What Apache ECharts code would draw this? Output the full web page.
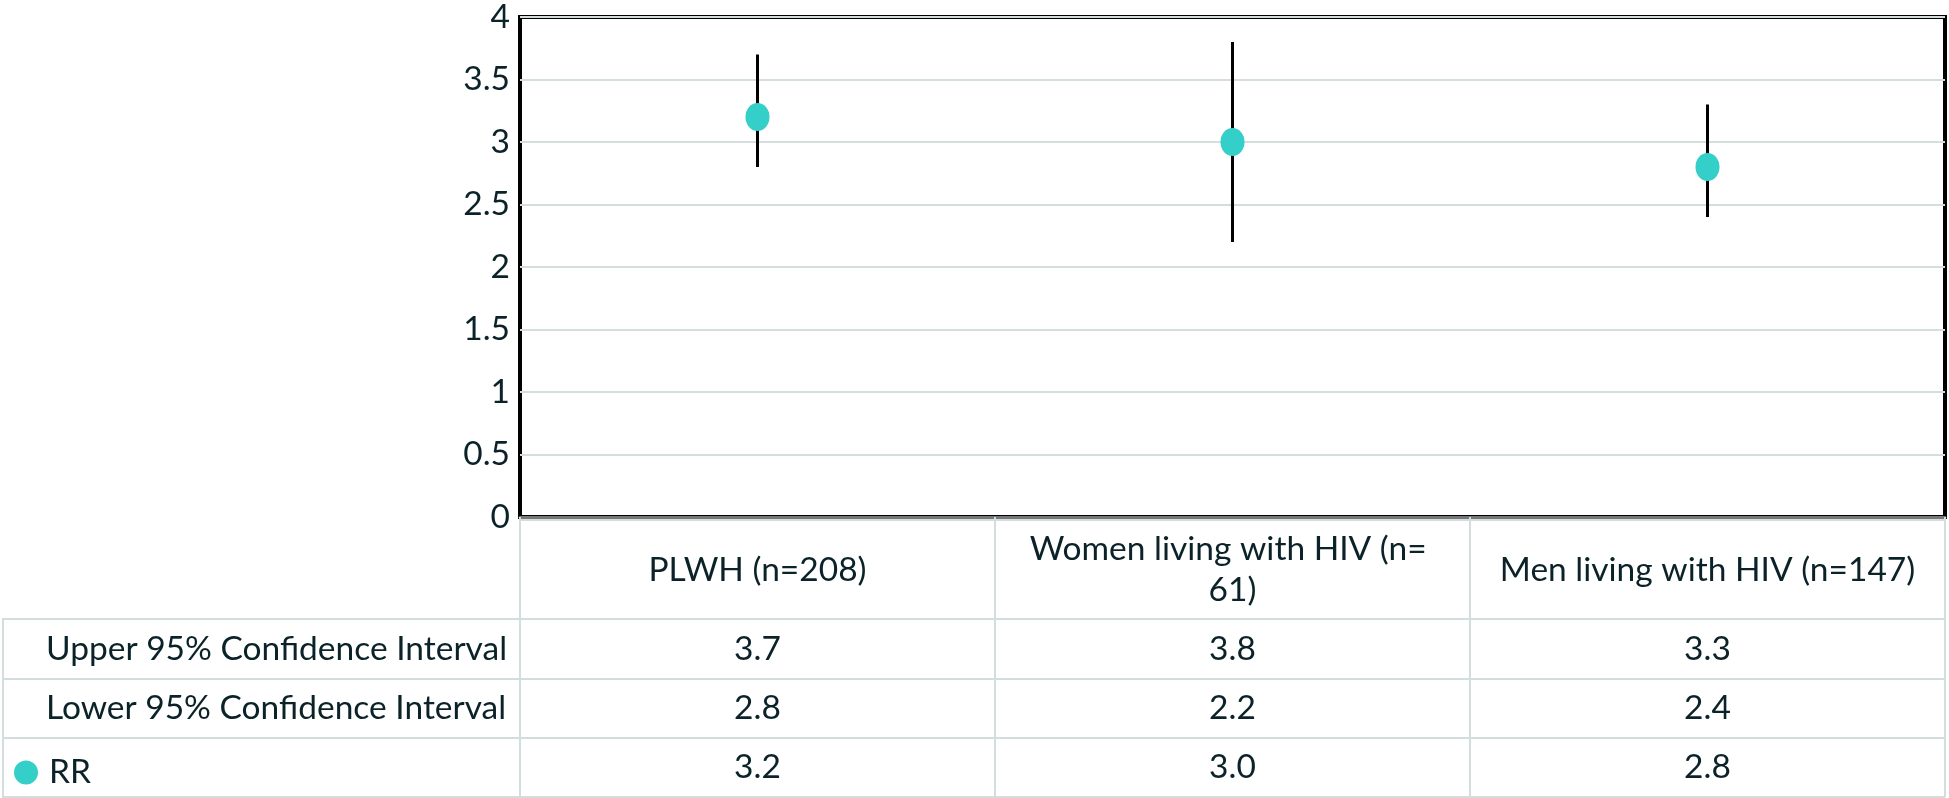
<!DOCTYPE html>
<html>
<head>
<meta charset="utf-8">
<script src="https://cdn.jsdelivr.net/npm/echarts@6/dist/echarts.min.js"></script>
<style>
html,body{margin:0;padding:0;background:#fff;}
#chart{width:1949px;height:798px;}
</style>
</head>
<body>
<div id="chart"></div>
<script>
// ---- data ----
const categories = ['PLWH (n=208)', 'Women living with HIV (n= 61)', 'Men living with HIV (n=147)'];
const upperCI = [3.7, 3.8, 3.3];
const lowerCI = [2.8, 2.2, 2.4];
const rr = [3.2, 3.0, 2.8];
const rowLabels = ['Upper 95% Confidence Interval', 'Lower 95% Confidence Interval', 'RR'];
const yMin = 0, yMax = 4, yStep = 0.5;

// ---- layout / style ----
const FONT = 'Lato';
const FS = 33.5;
const TXT = '#0b2229';
const DOT = '#35cfc9';
const GRIDC = '#d5dede';
const TBL = '#d3dddd';
const gridL = 520, gridR = 1945, gridT = 13, gridB = 517;
const rowY = [517, 619, 679, 738, 797];

const chart = echarts.init(document.getElementById('chart'), null, {renderer: 'canvas'});

const tableRows = [upperCI, lowerCI, rr];
const colW = (gridR - gridL) / categories.length;
const graphics = [];
function hline(y, x1, x2) {
  graphics.push({type: 'line', silent: true, z: 1, shape: {x1: x1, y1: y, x2: x2, y2: y}, style: {stroke: TBL, lineWidth: 2}});
}
function vline(x, y1, y2) {
  graphics.push({type: 'line', silent: true, z: 1, shape: {x1: x, y1: y1, x2: x, y2: y2}, style: {stroke: TBL, lineWidth: 2}});
}
hline(gridB + 3, gridL, gridR);
for (let r = 1; r < rowY.length; r++) hline(rowY[r], 2, gridR);
vline(3, rowY[1], rowY[4]);
for (let c = 0; c <= categories.length; c++) vline(gridL + c * colW, gridB, rowY[4]);

categories.forEach((name, c) => {
  graphics.push({
    type: 'text', silent: true, z: 5,
    style: {
      text: name, x: gridL + (c + 0.5) * colW, y: (rowY[0] + rowY[1]) / 2 + 2,
      width: colW - 30, overflow: 'break', lineHeight: 41,
      align: 'center', verticalAlign: 'middle',
      font: FS + 'px ' + FONT, fill: TXT
    }
  });
});
rowLabels.forEach((lab, r) => {
  if (r < 2) {
    graphics.push({
      type: 'text', silent: true, z: 5,
      style: {text: lab, x: 46, y: (rowY[r + 1] + rowY[r + 2]) / 2, align: 'left', verticalAlign: 'middle', font: FS + 'px ' + FONT, fill: TXT}
    });
  }
  tableRows[r].forEach((v, c) => {
    graphics.push({
      type: 'text', silent: true, z: 5,
      style: {text: v.toFixed(1), x: gridL + (c + 0.5) * colW, y: (rowY[r + 1] + rowY[r + 2]) / 2, align: 'center', verticalAlign: 'middle', font: FS + 'px ' + FONT, fill: TXT}
    });
  });
});

const option = {
  animation: false,
  backgroundColor: '#fff',
  textStyle: {fontFamily: FONT},
  grid: {left: gridL, right: 1949 - gridR, top: gridT, bottom: 798 - gridB, show: true, borderColor: '#000', borderWidth: 4, backgroundColor: 'transparent'},
  legend: {
    data: ['RR'], left: 9, top: (rowY[3] + rowY[4]) / 2 - 17, icon: 'circle', itemWidth: 24, itemHeight: 28,
    textStyle: {fontFamily: FONT, fontSize: FS, color: TXT, padding: [0, 0, 0, 6]}, selectedMode: false
  },
  xAxis: {
    type: 'category', data: categories,
    axisLine: {show: true, lineStyle: {color: '#777', width: 3}},
    axisTick: {show: false}, axisLabel: {show: false}, splitLine: {show: false}
  },
  yAxis: {
    type: 'value', min: yMin, max: yMax, interval: yStep,
    axisLine: {show: false}, axisTick: {show: false},
    axisLabel: {fontFamily: FONT, fontSize: FS, color: TXT, margin: 10},
    splitLine: {show: true, lineStyle: {color: GRIDC, width: 2}}
  },
  series: [
    {
      name: 'CI', type: 'custom',
      data: categories.map((c, i) => [i, lowerCI[i], upperCI[i]]),
      encode: {x: 0, y: [1, 2]},
      renderItem: function (params, api) {
        const x = api.value(0);
        const lo = api.coord([x, api.value(1)]);
        const hi = api.coord([x, api.value(2)]);
        return {type: 'line', shape: {x1: lo[0], y1: lo[1], x2: hi[0], y2: hi[1]}, style: {stroke: '#000', lineWidth: 3}};
      },
      z: 2
    },
    {
      name: 'RR', type: 'scatter', data: rr, symbol: 'circle', symbolSize: [24, 28],
      itemStyle: {color: DOT, opacity: 1}, z: 3
    }
  ],
  graphic: graphics
};
chart.setOption(option);
</script>
</body>
</html>
